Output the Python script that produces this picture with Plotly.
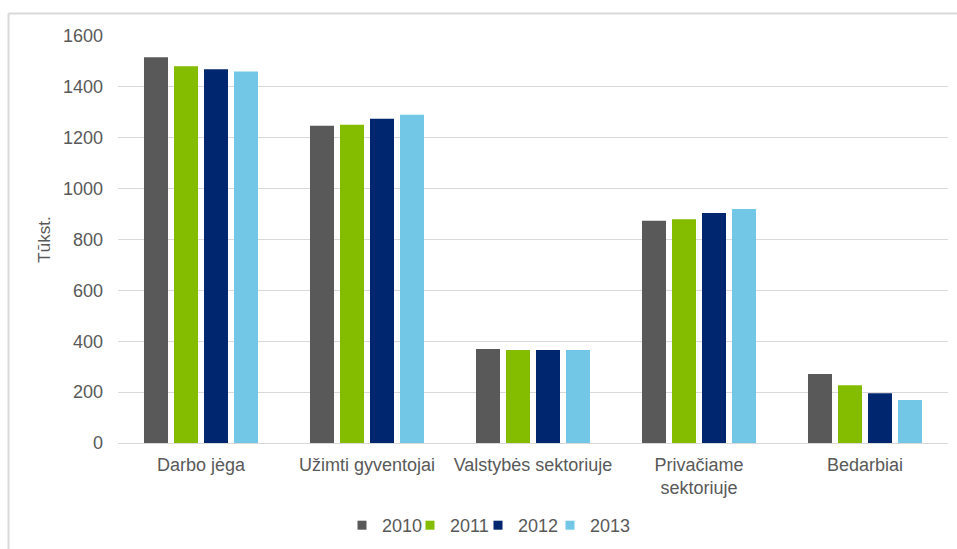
import plotly.graph_objects as go

categories = ["Darbo jėga", "Užimti gyventojai", "Valstybės sektoriuje",
              "Privačiame<br>sektoriuje", "Bedarbiai"]
years = ["2010", "2011", "2012", "2013"]
values_2010 = [1516, 1247, 370, 874, 271]
values_2011 = [1481, 1251, 366, 880, 227]
values_2012 = [1469, 1275, 366, 904, 196]
values_2013 = [1460, 1290, 366, 920, 169]
series = [values_2010, values_2011, values_2012, values_2013]
colors = ["#595959", "#84BD00", "#00266F", "#72C7E7"]
y_ticks = [0, 200, 400, 600, 800, 1000, 1200, 1400, 1600]

FONT = "Liberation Sans, Arial, sans-serif"
TEXT = "#595959"

W, H = 957, 549
ml, mr, mt, mb = 118, 9, 36, 106
pw, ph = W - ml - mr, H - mt - mb

def px_x(x):
    return (x - ml) / pw

def px_y(y):
    return 1 - (y - mt) / ph

# one legend box per year so the entries sit tightly in a row
legend_ids = ["legend", "legend2", "legend3", "legend4"]
legend_left = [342, 410, 478, 550]

fig = go.Figure()
for name, vals, col, lid in zip(years, series, colors, legend_ids):
    fig.add_trace(go.Bar(name=name, x=categories, y=vals, showlegend=False,
                         marker=dict(color=col, line=dict(width=0))))
    # legend entry with a small square key
    fig.add_trace(go.Scatter(name=name, x=[None], y=[None], mode="markers",
                             legend=lid, hoverinfo="skip",
                             marker=dict(symbol="square", size=9, color=col,
                                         line=dict(width=0))))

legend_layout = {}
for lid, left in zip(legend_ids, legend_left):
    legend_layout[lid] = dict(orientation="h", x=px_x(left), xanchor="left",
                              y=px_y(507), yanchor="top",
                              font=dict(size=18, color=TEXT),
                              bgcolor="rgba(0,0,0,0)", itemwidth=30)

fig.update_layout(
    width=W, height=H,
    margin=dict(l=ml, r=mr, t=mt, b=mb, pad=0, autoexpand=False),
    paper_bgcolor="white", plot_bgcolor="white",
    barmode="group", bargap=0.277, bargroupgap=0.2,
    font=dict(family=FONT, size=18, color=TEXT),
    showlegend=True,
    **legend_layout,
    xaxis=dict(showgrid=False, showline=True, linecolor="#D9D9D9",
               linewidth=1, ticks="", tickfont=dict(size=18, color=TEXT),
               ticklabelstandoff=5, zeroline=False, automargin=False),
    yaxis=dict(range=[0, 1600], tickvals=y_ticks, showgrid=True,
               gridcolor="#D9D9D9", gridwidth=1, zeroline=False,
               showline=False, ticks="", tickfont=dict(size=18, color=TEXT),
               ticklabelstandoff=14, automargin=False,
               title=dict(text="Tūkst.", font=dict(size=17, color=TEXT),
                          standoff=8)),
    shapes=[
        dict(type="line", xref="paper", yref="paper",
             x0=px_x(8.5), x1=px_x(W + 5), y0=px_y(13.5), y1=px_y(13.5),
             line=dict(color="#D9D9D9", width=2)),
        dict(type="line", xref="paper", yref="paper",
             x0=px_x(8.5), x1=px_x(8.5), y0=px_y(13.5), y1=px_y(H + 5),
             line=dict(color="#D9D9D9", width=2)),
    ],
)

fig.write_html("out.html")
